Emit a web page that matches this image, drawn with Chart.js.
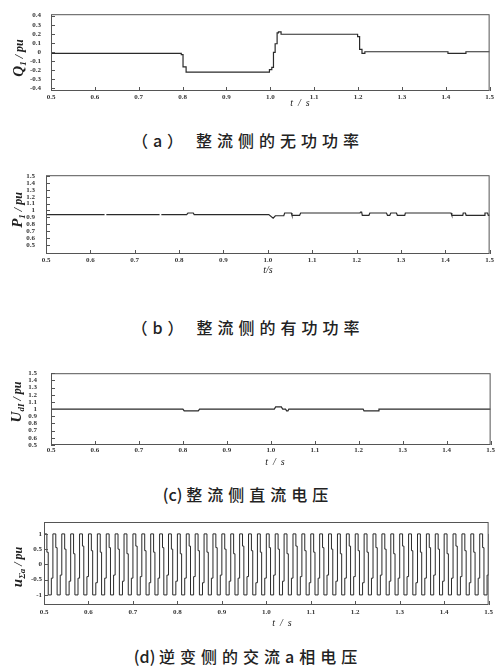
<!DOCTYPE html>
<html>
<head>
<meta charset="utf-8">
<script src="https://cdn.jsdelivr.net/npm/chart.js@4.4.0/dist/chart.umd.min.js"></script>
<style>
body { margin: 0; background: #fff; width: 496px; height: 671px; position: relative; overflow: hidden; }
.panel { position: absolute; left: 0; width: 496px; }
.cap { position: absolute; left: 0; width: 496px; text-align: center; font-family: "Noto Sans CJK SC"; font-size: 16px; font-weight: 500; color: #222; line-height: 20px; }
.cap b { font-weight: 500; letter-spacing: 5px; }
.cap i { font-style: normal; letter-spacing: 5px; margin-right: 8px; }
</style>
</head>
<body>
<div class="panel" style="top:0;height:112px"><canvas id="qChart"></canvas></div>
<div class="cap" style="top:130px"><i>（a）</i><b>整流侧的无功功率</b></div>
<div class="panel" style="top:160px;height:120px"><canvas id="pChart"></canvas></div>
<div class="cap" style="top:317px"><i>（b）</i><b>整流侧的有功功率</b></div>
<div class="panel" style="top:355px;height:115px"><canvas id="uChart"></canvas></div>
<div class="cap" style="top:484px">(c) <b>整流侧直流电压</b></div>
<div class="panel" style="top:510px;height:120px"><canvas id="uaChart"></canvas></div>
<div class="cap" style="top:646px">(d) <b>逆变侧的交流a相电压</b></div>

<script>
const timeTicks = [0.5, 0.6, 0.7, 0.8, 0.9, 1.0, 1.1, 1.2, 1.3, 1.4, 1.5];
const timeLabels = ["0.5", "0.6", "0.7", "0.8", "0.9", "1.0", "1.1", "1.2", "1.3", "1.4", "1.5"];

// (a) 无功功率, step changes
const qTime  = [0.5, 0.797, 0.801, 0.808, 0.998, 1.0034, 1.0072, 1.011, 1.0155, 1.0185, 1.0245, 1.199, 1.2036, 1.209, 1.2156, 1.405, 1.446, 1.5];
const qValue = [-0.016, -0.03, -0.164, -0.223, -0.195, -0.17, -0.005, 0.09, 0.21, 0.22, 0.195, 0.168, 0.029, -0.016, 0.002, -0.016, 0.002, 0.002];
const qTicks = [0.4, 0.3, 0.2, 0.1, 0, -0.1, -0.2, -0.3, -0.4];
const qLabels = ["0.4", "0.3", "0.2", "0.1", "0", "-0.1", "-0.2", "-0.3", "-0.4"];

// (b) 有功功率
const pTime  = [0.5, 0.632, 0.634, 0.636, 0.756, 0.758, 0.76, 0.817, 0.82, 0.832, 0.834, 1.0022, 1.012, 1.017, 1.036, 1.038, 1.053, 1.0545, 1.0717, 1.074, 1.2078, 1.209, 1.2115, 1.213, 1.228, 1.23, 1.2675, 1.2697, 1.275, 1.2773, 1.29, 1.292, 1.3087, 1.31, 1.413, 1.4148, 1.4395, 1.4405, 1.4455, 1.447, 1.488, 1.4895, 1.4955, 1.497, 1.5];
const pValue = [0.94, 0.94, null, 0.94, 0.94, null, 0.94, 0.94, 0.963, 0.963, 0.94, 0.94, 0.887, 0.923, 0.923, 0.963, 0.963, 0.93, 0.93, 0.963, 0.963, 0.976, 0.976, 0.93, 0.93, 0.963, 0.963, 0.93, 0.93, 0.963, 0.963, 0.93, 0.93, 0.963, 0.963, 0.93, 0.93, 0.963, 0.963, 0.93, 0.93, 0.963, 0.963, 0.93, 0.93];
const pTicks = [1.5, 1.4, 1.3, 1.2, 1.1, 1, 0.9, 0.8, 0.7, 0.6, 0.5];
const pLabels = ["1.5", "1.4", "1.3", "1.2", "1.1", "1", "0.9", "0.8", "0.7", "0.6", "0.5"];

// (c) 直流电压
const uTime  = [0.5, 0.8, 0.803, 0.835, 0.838, 1.008, 1.011, 1.024, 1.027, 1.0335, 1.036, 1.039, 1.041, 1.21, 1.212, 1.244, 1.246, 1.5];
const uValue = [1.0, 1.0, 0.975, 0.975, 1.0, 1.0, 1.03, 1.03, 1.0, 1.0, 0.975, 0.975, 1.0, 1.0, 0.975, 0.975, 1.0, 1.0];
const uTicks = pTicks;
const uLabels = pLabels;

// (d) 交流a相电压: one entry per 20 ms cycle, level of the intermediate step after the top and after the bottom
const uaMidDown = [0.4, 0.55, 0.5, 0.35, 0.6, 0.45, 0.4, 0.55, 0.5, 0.35, 0.6, 0.45, 0.4, 0.55, 0.5, 0.35, 0.6, 0.45, 0.4, 0.55, 0.5, 0.35, 0.6, 0.45, 0.4, 0.55, 0.5, 0.35, 0.6, 0.45, 0.4, 0.55, 0.5, 0.35, 0.6, 0.45, 0.4, 0.55, 0.5, 0.35, 0.6, 0.45, 0.4, 0.55, 0.5, 0.35, 0.6, 0.45, 0.4, 0.55];
const uaMidUp   = [-0.45, -0.35, -0.55, -0.45, -0.4, -0.6, -0.45, -0.35, -0.55, -0.45, -0.4, -0.6, -0.45, -0.35, -0.55, -0.45, -0.4, -0.6, -0.45, -0.35, -0.55, -0.45, -0.4, -0.6, -0.45, -0.35, -0.55, -0.45, -0.4, -0.6, -0.45, -0.35, -0.55, -0.45, -0.4, -0.6, -0.45, -0.35, -0.55, -0.45, -0.4, -0.6, -0.45, -0.35, -0.55, -0.45, -0.4, -0.6, -0.45, -0.35];
const uaTicks = [1, 0.5, 0, -0.5, -1];
const uaLabels = ["1", "0.5", "0", "-0.5", "-1"];

function pts(xs, ys) {
  return xs.map((x, i) => ({ x: x, y: ys[i] }));
}

// stepped: each level holds until the next point
const uaPts = [];
uaMidDown.forEach((mid, k) => {
  const t0 = 0.5 + k * 0.02;
  uaPts.push({ x: t0, y: 1 });
  uaPts.push({ x: t0 + 0.0065, y: mid });
  uaPts.push({ x: t0 + 0.0095, y: -1 });
  uaPts.push({ x: t0 + 0.0165, y: uaMidUp[k] });
});
uaPts.push({ x: 1.5, y: 1 });

// box, inward ticks and axis titles
const decor = {
  id: 'decor',
  afterDraw(chart, args, o) {
    const ctx = chart.ctx, a = chart.chartArea;
    ctx.save();
    ctx.strokeStyle = '#555';
    ctx.lineWidth = 1;
    ctx.strokeRect(a.left + 0.5, a.top + 0.5, a.right - a.left - 1, a.bottom - a.top - 1);
    chart.scales.y.ticks.forEach(t => {
      const y = Math.round(chart.scales.y.getPixelForValue(t.value)) + 0.5;
      ctx.beginPath(); ctx.moveTo(a.left, y); ctx.lineTo(a.left + 4, y); ctx.stroke();
    });
    chart.scales.x.ticks.forEach(t => {
      const x = Math.round(chart.scales.x.getPixelForValue(t.value)) + 0.5;
      ctx.beginPath(); ctx.moveTo(x, a.bottom); ctx.lineTo(x, a.bottom - 4); ctx.stroke();
    });
    ctx.fillStyle = '#222';
    // x title
    ctx.font = 'italic 10px "Liberation Serif"';
    ctx.textAlign = 'center';
    ctx.textBaseline = 'middle';
    ctx.fillText(o.xTitle, o.xTitleX, o.xTitleY);
    // y title with subscript
    ctx.translate(o.yTitleX, o.yTitleY);
    ctx.rotate(-Math.PI / 2);
    ctx.textAlign = 'left';
    ctx.textBaseline = 'alphabetic';
    const fMain = 'bold italic 15px "Liberation Serif"';
    const fSub = 'bold italic 9px "Liberation Serif"';
    const fUnit = 'bold italic 12px "Liberation Serif"';
    ctx.font = fMain; const w1 = ctx.measureText(o.yMain).width;
    ctx.font = fSub; const w2 = ctx.measureText(o.ySub).width;
    ctx.font = fUnit; const w3 = ctx.measureText(' / pu').width;
    let x = -(w1 + w2 + w3) / 2;
    ctx.font = fMain; ctx.fillText(o.yMain, x, 5); x += w1;
    ctx.font = fSub; ctx.fillText(o.ySub, x, 8); x += w2;
    ctx.font = fUnit; ctx.fillText(' / pu', x, 5);
    ctx.restore();
  }
};

const tickFont = { family: 'Liberation Serif', size: 7, weight: 'bold' };

function makeChart(id, cfg) {
  const H = cfg.height;
  new Chart(document.getElementById(id), {
    type: 'line',
    data: {
      datasets: [{
        data: cfg.data,
        borderColor: '#2a2a2a',
        borderWidth: cfg.lineWidth || 1.2,
        pointRadius: 0,
        stepped: cfg.stepped || false,
        spanGaps: false,
        tension: 0
      }]
    },
    options: {
      responsive: true,
      maintainAspectRatio: false,
      animation: false,
      events: [],
      layout: { padding: { top: cfg.top, right: 496 - cfg.right, left: 0, bottom: 0 } },
      plugins: {
        legend: { display: false },
        tooltip: { enabled: false },
        decor: cfg.decor
      },
      scales: {
        x: {
          type: 'linear',
          min: 0.5,
          max: 1.5,
          afterBuildTicks: s => { s.ticks = timeTicks.map(v => ({ value: v })); },
          afterFit: s => { s.height = H - cfg.bottom; },
          grid: { display: false, drawTicks: false },
          border: { display: false },
          ticks: {
            font: tickFont,
            color: '#333',
            padding: cfg.xPad,
            maxRotation: 0,
            autoSkip: false,
            callback: (v, i) => timeLabels[i]
          }
        },
        y: {
          min: cfg.yMin,
          max: cfg.yMax,
          afterBuildTicks: s => { s.ticks = cfg.yTicks.map(v => ({ value: v })); },
          afterFit: s => { s.width = cfg.left; },
          grid: { display: false, drawTicks: false },
          border: { display: false },
          ticks: {
            font: tickFont,
            color: '#333',
            padding: cfg.yPad,
            autoSkip: false,
            callback: (v, i) => cfg.yLabels[i]
          }
        }
      }
    },
    plugins: [decor]
  });
}

makeChart('qChart', {
  height: 112, top: 10, bottom: 91, left: 51, right: 492,
  data: pts(qTime, qValue), stepped: true,
  yMin: -0.431, yMax: 0.416, yTicks: qTicks, yLabels: qLabels, xPad: 2, yPad: 10,
  decor: { xTitle: 't  /  s', xTitleX: 300, xTitleY: 103, yMain: 'Q', ySub: '1', yTitleX: 18, yTitleY: 58 }
});

makeChart('pChart', {
  height: 120, top: 8, bottom: 94, left: 46, right: 492,
  data: pts(pTime, pValue),
  yMin: 0.367, yMax: 1.513, yTicks: pTicks, yLabels: pLabels, xPad: 2, yPad: 11,
  decor: { xTitle: 't/s', xTitleX: 268, xTitleY: 110, yMain: 'P', ySub: '1', yTitleX: 17, yTitleY: 50 }
});

makeChart('uChart', {
  height: 115, top: 11, bottom: 90, left: 51, right: 492,
  data: pts(uTime, uValue),
  yMin: 0.5, yMax: 1.5, yTicks: uTicks, yLabels: uLabels, xPad: 1, yPad: 14,
  decor: { xTitle: 't  /  s', xTitleX: 275, xTitleY: 107, yMain: 'U', ySub: 'dI', yTitleX: 16, yTitleY: 47 }
});

makeChart('uaChart', {
  height: 120, top: 12, bottom: 95, left: 44, right: 491,
  data: uaPts, stepped: true, lineWidth: 1,
  yMin: -1.33, yMax: 1.39, yTicks: uaTicks, yLabels: uaLabels, xPad: 3, yPad: 2,
  decor: { xTitle: 't  /  s', xTitleX: 282, xTitleY: 113, yMain: 'u', ySub: 'Σa', yTitleX: 17, yTitleY: 57 }
});
</script>
</body>
</html>
